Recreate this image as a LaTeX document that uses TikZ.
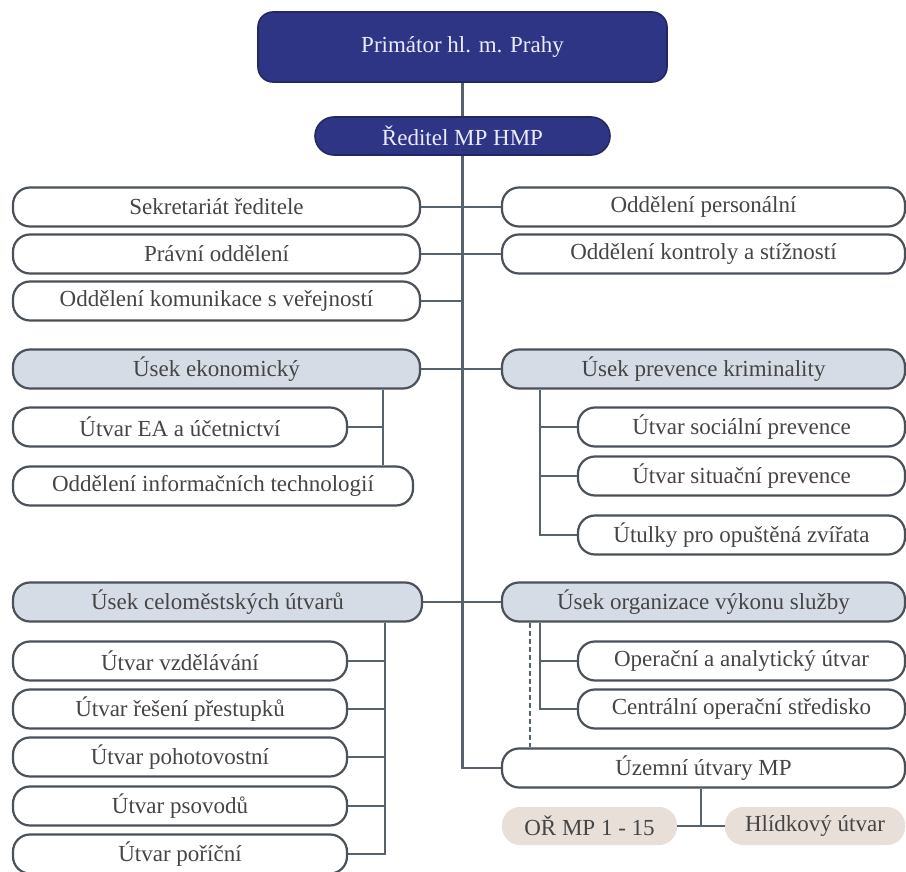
\documentclass[tikz,border=0pt]{standalone}
\usepackage{fontspec}
\setmainfont{Liberation Serif}
\usepackage{xcolor}
\usepackage{tikz}
\usetikzlibrary{shapes.misc}

\definecolor{mpnavy}{HTML}{2F3585}
\definecolor{mplight}{HTML}{D5DCE6}
\definecolor{mpbeige}{HTML}{E8DFD8}
\definecolor{mpborder}{HTML}{4B5159}
\definecolor{mpline}{HTML}{56636C}
\definecolor{mptext}{HTML}{454545}

\begin{document}
\begin{tikzpicture}[x=1pt, y=-1pt,
        font=\fontsize{23}{26}\selectfont,
        unit/.style={draw=mpborder, line width=2.2pt, rounded corners=17pt, fill=white, text=mptext, minimum height=39pt, inner sep=0pt},
        section/.style={unit, fill=mplight},
        head/.style={draw=mpnavy!75!black, line width=1.6pt, fill=mpnavy, text=white!92!blue, inner sep=0pt},
        local/.style={fill=mpbeige, rounded corners=18pt, text=mptext, minimum height=38pt, inner sep=0pt},
        link/.style={draw=mpline, line width=2.6pt}]

        \useasboundingbox[fill=white] (0,0) rectangle (906,872);

        % Nodes
        \node[head, rounded corners=15pt, minimum width=409pt, minimum height=70pt] (prim) at (462.5,47) {Primátor hl. m. Prahy};
        \node[head, rounded corners=19pt, minimum width=295pt, minimum height=38pt] (red) at (462.5,136) {Ředitel MP HMP};

        \node[unit, minimum width=407pt] (sekr) at (216.5,207) {Sekretariát ředitele};
        \node[unit, minimum width=407pt] (pravni) at (216.5,254) {Právní oddělení};
        \node[unit, minimum width=407pt] (komun) at (216.5,301) {Oddělení komunikace s veřejností};
        \node[unit, minimum width=403pt] (pers) at (703.5,207) {Oddělení personální};
        \node[unit, minimum width=403pt] (kontr) at (703.5,254) {Oddělení kontroly a stížností};

        \node[section, minimum width=407pt] (ekon) at (216.5,369) {Úsek ekonomický};
        \node[unit, minimum width=334pt] (ea) at (180,427) {Útvar EA a účetnictví};
        \node[unit, minimum width=400pt] (it) at (213,486) {Oddělení informačních technologií};

        \node[section, minimum width=403pt] (prev) at (703.5,369) {Úsek prevence kriminality};
        \node[unit, minimum width=327pt] (soc) at (741.5,427) {Útvar sociální prevence};
        \node[unit, minimum width=327pt] (sit) at (741.5,476) {Útvar situační prevence};
        \node[unit, minimum width=327pt] (utul) at (741.5,535) {Útulky pro opuštěná zvířata};

        \node[section, minimum width=409pt] (celo) at (217.5,602) {Úsek celoměstských útvarů};
        \node[unit, minimum width=334pt] (vzd) at (180,661) {Útvar vzdělávání};
        \node[unit, minimum width=334pt] (pres) at (180,709) {Útvar řešení přestupků};
        \node[unit, minimum width=334pt] (poh) at (180,757) {Útvar pohotovostní};
        \node[unit, minimum width=334pt] (psov) at (180,806) {Útvar psovodů};
        \node[unit, minimum width=334pt] (pori) at (180,854) {Útvar poříční};

        \node[section, minimum width=403pt] (org) at (703.5,602) {Úsek organizace výkonu služby};
        \node[unit, minimum width=327pt] (oper) at (741.5,661) {Operační a analytický útvar};
        \node[unit, minimum width=327pt] (centr) at (741.5,709) {Centrální operační středisko};
        \node[unit, minimum width=403pt] (uzem) at (703.5,768) {Územní útvary MP};
        \node[local, minimum width=175pt] (okr) at (589.5,826) {OŘ MP 1 - 15};
        \node[local, minimum width=180pt] (hlid) at (815,826) {Hlídkový útvar};

        % Bus lines
        \coordinate (ekbus) at (383,0);
        \coordinate (cebus) at (385,0);
        \coordinate (pvbus) at (540,0);
        \coordinate (dbus) at (530,0);
        \coordinate (okbus) at (701,0);

        % Edges
        \draw[link] (prim.south) -- (red.north);
        \draw[link] (red.south) |- (uzem.west);
        \draw[link] (sekr.east) -- (pers.west);
        \draw[link] (pravni.east) -- (kontr.west);
        \draw[link] (komun.east) -- (komun.east -| red.south);
        \draw[link] (ekon.east) -- (prev.west);
        \draw[link] (celo.east) -- (org.west);

        \draw[link] (ekon.south -| ekbus) -- (it.north -| ekbus);
        \draw[link] (ea.east) -- (ea.east -| ekbus);

        \draw[link] (prev.south -| pvbus) |- (utul.west);
        \foreach \n in {soc, sit}
            \draw[link] (\n.west) -- (\n.west -| pvbus);

        \draw[link] (celo.south -| cebus) |- (pori.east);
        \foreach \n in {vzd, pres, poh, psov}
            \draw[link] (\n.east) -- (\n.east -| cebus);

        \draw[link] (org.south -| pvbus) |- (centr.west);
        \draw[link] (oper.west) -- (oper.west -| pvbus);
        \draw[link, dash pattern=on 5pt off 3pt] (org.south -| dbus) -- (uzem.north -| dbus);

        \draw[link] (uzem.south -| okbus) -- (okr.east -| okbus);
        \draw[link] (okr.east) -- (hlid.west);

    \end{tikzpicture}
\end{document}
